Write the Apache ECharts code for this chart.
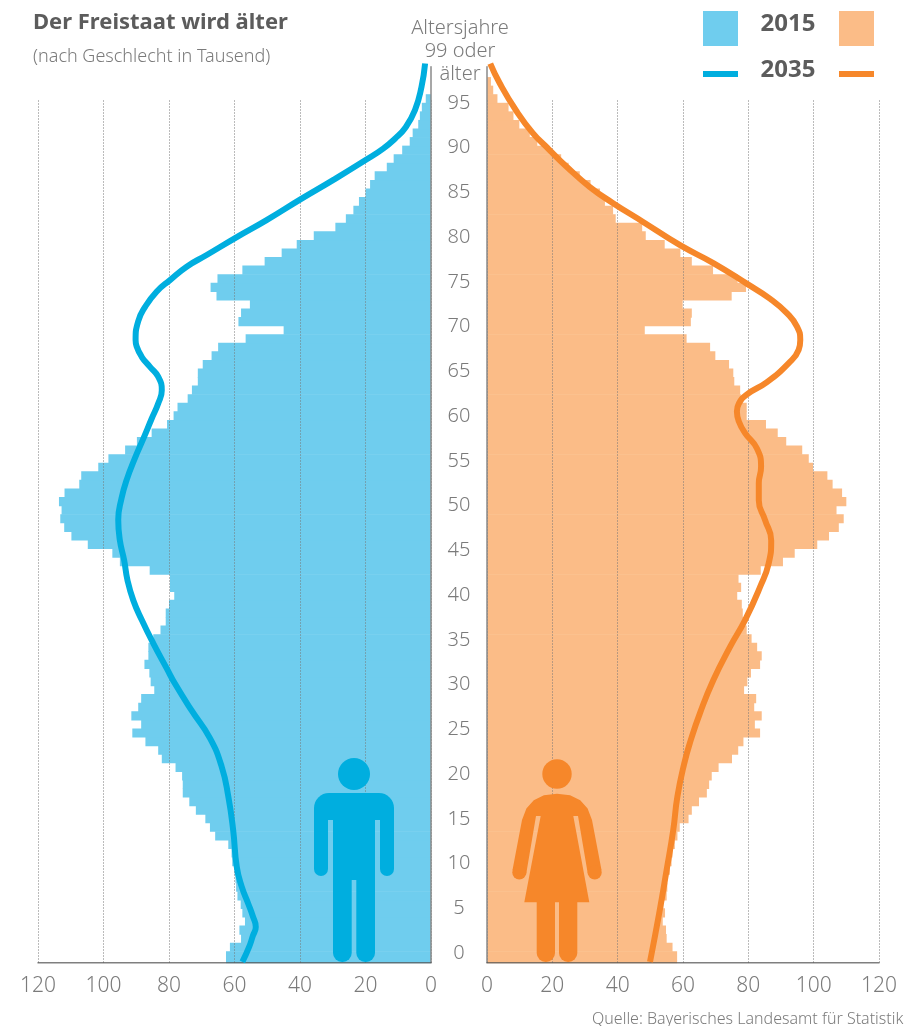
<!DOCTYPE html>
<html lang="de">
<head>
<meta charset="UTF-8">
<title>Der Freistaat wird älter</title>
<script src="https://cdn.jsdelivr.net/npm/echarts@6/dist/echarts.min.js"></script>
<style>html,body{margin:0;padding:0;background:#fff}</style>
</head>
<body>
<div id="main" style="width:905px;height:1026px"></div>
<script>
// 2015, one value per bar row from the bottom up (thousands)
var men2015 = [62.6,62.6,61.4,58,58.5,56.8,57.6,58.1,59.1,59.5,59.7,60,60.7,60.9,61.9,65.9,67.5,68.9,71.8,73.8,75.8,75.8,76,78,82.2,83.3,87.2,91.2,88.5,91.5,89.4,88.5,84.5,85.6,86,87.5,86.3,86.3,84.8,82.6,81,81,80,78.4,79.7,79.7,85.9,95,97.3,104.8,109.8,112,113.2,112.8,113.6,111.9,107.4,106.8,101.6,98.5,93.4,89.8,85.3,80.6,78.6,77.4,74.3,73,71.2,71.2,69.7,67,65,56.6,45,58.8,58,55.3,65.5,67.3,65.2,57.6,50.8,45.6,41,35.8,29.2,26,23.7,22,20,18.6,17.2,13.5,11.4,8.8,6.5,5.6,3.9,3.4,2.8,1.6];
var women2015 = [58.2,58.2,56.8,55,54.8,53.8,54.5,54,55,55.2,54,56,56.5,56.8,57.5,58.3,59,61.7,62.7,64.9,67.3,68,68.8,70.9,75,76.9,78.5,83.6,82,84.1,81.8,82.4,78.7,79.7,80.8,83.6,84.1,82.7,81,79.5,79,78.3,78,76.6,77.8,77,83.8,90.6,94.2,101.1,104.7,107.7,109.2,107,110,108.7,105.8,104.2,99.8,98.5,96.5,91.6,89,85.4,79.5,79.5,77.7,77.5,75.7,75.4,74.1,69.9,68.3,61.1,48.3,62.4,62.7,59.9,74.9,79.3,76.7,69.2,62.7,59.2,54.4,48.6,47.5,39.4,38.6,36.1,34.6,31.7,28.4,25,22.7,19.2,15.4,13.1,9.9,8.1,6.6,3.2,1.9,1.2];

// 2035 curves as [thousands, age]
var men2035 = [[57.6,-1.1],[55.5,0.6],[54.4,1.8],[53.5,2.8],[54.4,4],[55.8,5.4],[57.8,7.3],[59.3,9.5],[60.4,13.6],[61.9,17.4],[63.9,20.7],[67.5,23.9],[73.1,27],[78.2,30],[80.7,31.7],[84.8,34.5],[88.3,37.1],[90.9,39.3],[92.7,41.6],[93.7,43.8],[95,46],[95.5,48.3],[94.5,50.7],[92.9,52.8],[90.4,55.2],[87.8,57.4],[85.3,59.6],[83.3,61.3],[82.2,62.8],[83.3,64.3],[85.8,65.4],[88.3,66.5],[89.9,67.7],[90.2,68.4],[89.4,70.5],[87.3,72.1],[83.8,73.8],[79.7,75.1],[74.6,76.6],[68.5,77.9],[59.3,79.9],[50.2,81.8],[39.5,84.2],[29.8,86.3],[19.6,88.6],[14.6,89.8],[11,90.9],[7.9,92.1],[4.9,94.1],[2.9,96.7],[1.8,99.3]];
var women2035 = [[49.9,-1.1],[52.7,4.3],[55,9.2],[57,13.6],[58.3,17.4],[60.4,21.1],[62.4,23.7],[65.2,26.7],[69.3,30.4],[74.4,34.1],[79,37.1],[83.6,40.8],[86.2,43.4],[87,46],[85.1,48.3],[83.2,50.5],[83.2,52.4],[83.9,54.2],[82.6,56.3],[79,58],[77.1,59.3],[76.5,60.4],[77.1,61.3],[79.5,62.3],[85.7,63.7],[92.3,65.8],[95.4,67.3],[95.9,68.4],[94.9,69.9],[91.8,71.4],[86.7,73],[79.5,74.7],[69.3,77],[59.1,79],[47.8,81.6],[38.6,83.7],[31.5,85.5],[24.3,87.8],[18.7,89.8],[14.1,91.5],[9,94],[3.9,97.1],[1,99.3]];

var ageTicks = [0,5,10,15,20,25,30,35,40,45,50,55,60,65,70,75,80,85,90,95];
var valueTicks = [0,20,40,60,80,100,120];
var rowLabels = [];
for (var r = 0; r < 106; r++) rowLabels.push(String(r));

var BLUE_BAR = '#6fcdee', BLUE_LINE = '#00aedf', ORANGE_BAR = '#fbbc87', ORANGE_LINE = '#f6872a';
var GREY = '#7b7b7b', DARK = '#5c5c5c';
var FONT = '"Noto Sans", sans-serif';

var chart = echarts.init(document.getElementById('main'), null, {renderer: 'canvas'});

function text(str, left, top, size, color, weight, align) {
    return {
        text: str, left: left, top: top, padding: 0, textAlign: align || 'left',
        textStyle: {fontFamily: FONT, fontSize: size, color: color, fontWeight: weight || 'normal', lineHeight: size + 3}
    };
}
function ruleAxis(grid, inverse) {
    return {
        type: 'value', gridIndex: grid, min: 0, max: 120, interval: 20, inverse: inverse, z: 3,
        axisLine: {show: true, onZero: false, lineStyle: {color: '#555', width: 1.5}},
        axisTick: {show: false},
        axisLabel: {
            margin: 13, color: GREY, fontFamily: FONT, fontSize: 21, fontWeight: 300,
            customValues: valueTicks
        },
        splitLine: {show: true, lineStyle: {type: [1, 2], color: '#777', width: 1}}
    };
}
function hiddenAxis(grid, type, extra) {
    return Object.assign({type: type, gridIndex: grid, show: false}, extra);
}
function rect(x, y, w, h, fill, r) {
    return {type: 'rect', z: 5, shape: {x: x, y: y, width: w, height: h, r: r || 0}, style: {fill: fill}};
}
function circle(cx, cy, r, fill) {
    return {type: 'circle', z: 5, shape: {cx: cx, cy: cy, r: r}, style: {fill: fill}};
}
function label(y, str) {
    return {type: 'text', z: 5, style: {x: 788, y: y, text: str, align: 'center', verticalAlign: 'middle', font: 'bold 24px "Noto Sans", sans-serif', fill: DARK}};
}

var BARS_TOP = 60.25, BARS_BOTTOM = 1026 - 968.67;
var RULE_TOP = 100.5, RULE_BOTTOM = 1026 - 962.7;

var option = {
    animation: false,
    backgroundColor: '#fff',
    title: [
        text('Der Freistaat wird älter', 33, 10, 22, DARK, 'bold'),
        text('(nach Geschlecht in Tausend)', 33, 46, 18, GREY, 300),
        text('Altersjahre\n99 oder\nälter', 460, 17, 20, GREY, 300, 'center'),
        text('Quelle: Bayerisches Landesamt für Statistik', 592, 1010, 16, GREY, 300)
    ],
    grid: [
        {left: 38, right: 905 - 431, top: BARS_TOP, bottom: BARS_BOTTOM},
        {left: 487, right: 905 - 879, top: BARS_TOP, bottom: BARS_BOTTOM},
        {left: 38, right: 905 - 431, top: RULE_TOP, bottom: RULE_BOTTOM},
        {left: 487, right: 905 - 879, top: RULE_TOP, bottom: RULE_BOTTOM},
        {left: 431, width: 56, top: 66.7, bottom: RULE_BOTTOM}
    ],
    xAxis: [
        hiddenAxis(0, 'value', {min: 0, max: 120, inverse: true}),
        hiddenAxis(1, 'value', {min: 0, max: 120}),
        ruleAxis(2, true),
        ruleAxis(3, false),
        hiddenAxis(4, 'value', {min: 0, max: 1})
    ],
    yAxis: [
        hiddenAxis(0, 'category', {data: rowLabels}),
        hiddenAxis(0, 'value', {min: -1.863, max: 99.67}),
        hiddenAxis(1, 'category', {data: rowLabels}),
        hiddenAxis(1, 'value', {min: -1.863, max: 99.67}),
        hiddenAxis(2, 'value', {min: 0, max: 1}),
        hiddenAxis(3, 'value', {min: 0, max: 1}),
        {
            type: 'value', gridIndex: 4, position: 'left', min: -1.08, max: 99.06, z: 3,
            axisLine: {show: true, lineStyle: {color: '#8a8a8a', width: 1.5}},
            axisTick: {show: false},
            splitLine: {show: false},
            axisLabel: {
                align: 'center', margin: -28, color: GREY, fontFamily: FONT, fontSize: 20, fontWeight: 300,
                customValues: ageTicks
            }
        },
        {
            type: 'value', gridIndex: 4, position: 'right', min: -1.08, max: 99.06, z: 3,
            axisLine: {show: true, lineStyle: {color: '#8a8a8a', width: 1.5}},
            axisTick: {show: false}, axisLabel: {show: false}, splitLine: {show: false}
        }
    ],
    series: [
        {name: 'Männer 2015', type: 'bar', xAxisIndex: 0, yAxisIndex: 0, data: men2015, barWidth: 9.2, itemStyle: {color: BLUE_BAR}, z: 2},
        {name: 'Frauen 2015', type: 'bar', xAxisIndex: 1, yAxisIndex: 2, data: women2015, barWidth: 9.2, itemStyle: {color: ORANGE_BAR}, z: 2},
        {name: 'Männer 2035', type: 'line', xAxisIndex: 0, yAxisIndex: 1, data: men2035, smooth: 0.5, showSymbol: false, lineStyle: {color: BLUE_LINE, width: 6}, z: 4},
        {name: 'Frauen 2035', type: 'line', xAxisIndex: 1, yAxisIndex: 3, data: women2035, smooth: 0.5, showSymbol: false, lineStyle: {color: ORANGE_LINE, width: 6}, z: 4}
    ],
    graphic: {
        elements: [
            // lowest bar row runs past the base line
            rect(30, 963.6, 860, 6, '#fff'),
            // legend
            rect(703, 11, 35, 35, BLUE_BAR),
            rect(839, 11, 35, 35, ORANGE_BAR),
            rect(703, 71, 35, 6, BLUE_LINE),
            rect(839, 71, 35, 6, ORANGE_LINE),
            label(24, '2015'),
            label(70, '2035'),
            // man
            circle(354, 774, 16, BLUE_LINE),
            rect(314, 793, 80, 27, BLUE_LINE, [15, 15, 0, 0]),
            rect(314, 815, 14, 61, BLUE_LINE, [0, 0, 7, 7]),
            rect(380, 815, 14, 61, BLUE_LINE, [0, 0, 7, 7]),
            rect(333, 815, 42, 65, BLUE_LINE),
            rect(333, 875, 18.7, 87, BLUE_LINE, [0, 0, 9, 9]),
            rect(356.3, 875, 18.7, 87, BLUE_LINE, [0, 0, 9, 9]),
            // woman
            circle(557, 774, 14.7, ORANGE_LINE),
            {type: 'polygon', z: 5, shape: {points: [[557,793.7],[570.1,795.3],[580.25,800.3],[587.6,808.5],[592,820],[601.5,870],[588,875],[578,816],[573.3,816],[589.3,902.3],[524.3,902.3],[540.7,816],[536,816],[526,875],[512.5,870],[522,820],[526.4,808.5],[533.75,800.3],[543.9,795.3]]}, style: {fill: ORANGE_LINE}},
            circle(519.3, 872.5, 7, ORANGE_LINE),
            circle(594.7, 872.5, 7, ORANGE_LINE),
            rect(536.7, 900, 18.3, 62, ORANGE_LINE, [0, 0, 9, 9]),
            rect(559, 900, 18.3, 62, ORANGE_LINE, [0, 0, 9, 9])
        ]
    }
};
chart.setOption(option);
</script>
</body>
</html>
